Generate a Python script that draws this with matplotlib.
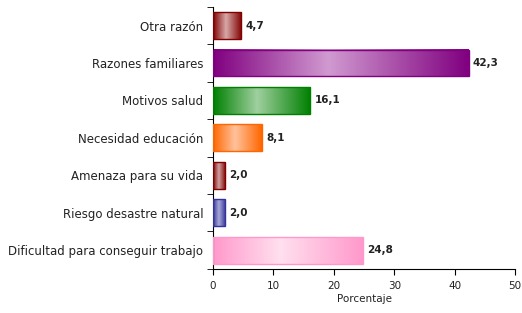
import numpy as np
import matplotlib.pyplot as plt
from matplotlib.colors import LinearSegmentedColormap

# --- データ ---
categorias = ["Otra razón", "Razones familiares", "Motivos salud",
              "Necesidad educación", "Amenaza para su vida",
              "Riesgo desastre natural", "Dificultad para conseguir trabajo"]
valores = [4.7, 42.3, 16.1, 8.1, 2.0, 2.0, 24.8]
etiquetas = ["4,7", "42,3", "16,1", "8,1", "2,0", "2,0", "24,8"]

# 色 (濃い色, 明るい色)
colores_oscuros = ["#800000", "#800080", "#008000", "#ff6600", "#800000", "#333399", "#ff99cc"]
colores_claros = ["#d8a8a8", "#d09ad0", "#9fcf9f", "#ffc29c", "#d0a0a0", "#a8a8d8", "#ffe0ee"]

plt.rcParams['font.family'] = ['DejaVu Sans']

fig = plt.figure(figsize=(5.22, 3.13), dpi=100)
ax = fig.add_axes([0.408, 0.141, 0.579, 0.837])

n = len(categorias)
y = np.arange(n)[::-1]
h = 0.72
grad = np.linspace(0, 1, 256).reshape(1, -1)

for yi, v, dark, light, lab in zip(y, valores, colores_oscuros, colores_claros, etiquetas):
    cmap = LinearSegmentedColormap.from_list("g", [(0, dark), (0.45, light), (1, dark)])
    ax.imshow(grad, cmap=cmap, aspect="auto", extent=[0, v, yi - h / 2, yi + h / 2],
              interpolation="bilinear", zorder=2)
    ax.barh(yi, v, height=h, facecolor="none", edgecolor=dark, linewidth=1.0, zorder=3)
    ax.annotate(lab, (v, yi), xytext=(3, 0), textcoords="offset points",
                va="center", ha="left", fontsize=7.5, fontweight="bold", color="#222222")

ax.set_xlim(0, 50)
ax.set_ylim(-0.5, n - 0.5)
ax.set_xticks([0, 10, 20, 30, 40, 50])
ax.set_yticks(y)
ax.set_yticklabels(categorias)
ax.set_yticks(np.arange(-0.5, n), minor=True)
ax.tick_params(axis="y", which="major", length=0, pad=7, labelsize=8.5, labelcolor="#222222")
ax.tick_params(axis="y", which="minor", length=4, direction="out")
ax.tick_params(axis="x", length=4, direction="out", pad=5, labelsize=7.5, labelcolor="#222222")
ax.set_xlabel("Porcentaje", fontsize=7.5, labelpad=2, color="#222222")
ax.spines["top"].set_visible(False)
ax.spines["right"].set_visible(False)

fig.savefig("out.png", dpi=100)
